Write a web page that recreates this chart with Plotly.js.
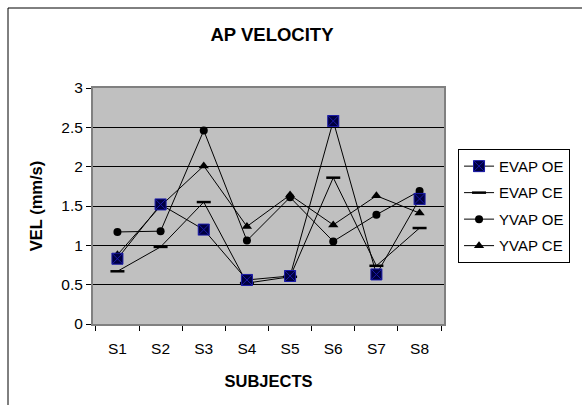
<!DOCTYPE html>
<html>
<head>
<meta charset="utf-8">
<script src="https://cdn.plot.ly/plotly-3.0.1.min.js"></script>
<style>
  html, body { margin: 0; padding: 0; background: #ffffff; }
  #chart { width: 582px; height: 405px; }
</style>
</head>
<body>
<div id="chart"></div>
<script>
// AP velocity per subject, eyes open (OE) / eyes closed (CE)
const subjects = ['S1', 'S2', 'S3', 'S4', 'S5', 'S6', 'S7', 'S8'];
const evapOE = [0.83, 1.52, 1.20, 0.56, 0.61, 2.58, 0.63, 1.59];
const evapCE = [0.67, 0.98, 1.55, 0.52, 0.60, 1.86, 0.74, 1.22];
const yvapOE = [1.17, 1.18, 2.46, 1.06, 1.61, 1.05, 1.39, 1.69];
const yvapCE = [0.88, 1.50, 2.01, 1.24, 1.64, 1.26, 1.63, 1.41];
const yTicks = [0, 0.5, 1, 1.5, 2, 2.5, 3];
const yTickText = ['0', '0.5', '1', '1.5', '2', '2.5', '3'];

const FONT = 'Liberation Sans, Arial, sans-serif';
const lineStyle = { color: '#000000', width: 1 };

const traces = [
  {
    name: 'EVAP CE', x: subjects, y: evapCE, legendrank: 2, legendgroup: 'b',
    mode: 'lines+markers', line: lineStyle,
    marker: { symbol: 'line-ew', size: 10, line: { color: '#000000', width: 2.5 } }
  },
  {
    name: 'YVAP OE', x: subjects, y: yvapOE, legendrank: 3, legendgroup: 'c',
    mode: 'lines+markers', line: lineStyle,
    marker: { symbol: 'circle', size: 8, color: '#000000' }
  },
  {
    name: 'YVAP CE', x: subjects, y: yvapCE, legendrank: 4, legendgroup: 'd',
    mode: 'lines+markers', line: lineStyle,
    marker: { symbol: 'triangle-up', size: 9, color: '#000000' }
  },
  {
    name: 'EVAP OE', x: subjects, y: evapOE, legendrank: 1, legendgroup: 'a',
    mode: 'lines+markers', line: lineStyle,
    marker: { symbol: 'square-x', size: 11, color: '#000040', line: { color: '#1a1aa8', width: 1 } }
  }
];

const layout = {
  width: 582, height: 405,
  margin: { l: 93, r: 138, t: 88, b: 81 },
  paper_bgcolor: '#ffffff',
  plot_bgcolor: '#c0c0c0',
  font: { family: FONT, size: 15, color: '#000000' },
  showlegend: true,
  title: {
    text: '<b>AP VELOCITY</b>',
    font: { family: FONT, size: 18.5, color: '#000000' },
    xref: 'paper', x: 0.51, xanchor: 'center',
    yref: 'container', y: 1 - 35 / 405, yanchor: 'middle'
  },
  xaxis: {
    type: 'category',
    tickson: 'boundaries',
    ticks: 'outside', ticklen: 5, tickcolor: '#000000', tickwidth: 1,
    showline: true, linecolor: '#808080', linewidth: 2, mirror: true,
    showgrid: false, zeroline: false,
    tickfont: { family: FONT, size: 15.5 },
    ticklabelstandoff: 9,
    title: { text: '<b>SUBJECTS</b>', font: { family: FONT, size: 16.5 }, standoff: 20 },
    automargin: false
  },
  yaxis: {
    range: [0, 3],
    tickvals: yTicks, ticktext: yTickText,
    ticks: 'outside', ticklen: 5, tickcolor: '#000000', tickwidth: 1,
    showline: true, linecolor: '#808080', linewidth: 2, mirror: true,
    showgrid: true, gridcolor: '#000000', gridwidth: 1,
    zeroline: false,
    tickfont: { family: FONT, size: 15.5 },
    title: { text: '<b>VEL (mm/s)</b>', font: { family: FONT, size: 16.5 }, standoff: 15 },
    automargin: false
  },
  legend: {
    x: 1.04, xanchor: 'left', y: 0.742, yanchor: 'top',
    bgcolor: '#ffffff', bordercolor: '#000000', borderwidth: 1,
    font: { family: FONT, size: 15 },
    traceorder: 'grouped', tracegroupgap: 4,
    itemwidth: 30
  },
  shapes: [
    {
      type: 'rect', xref: 'paper', yref: 'paper',
      x0: (8 - 93) / 351, x1: (600 - 93) / 351,
      y0: (324 - 420) / 236, y1: (324 - 8) / 236,
      line: { color: '#000000', width: 1 }, fillcolor: 'rgba(0,0,0,0)', layer: 'below'
    }
  ]
};

Plotly.newPlot('chart', traces, layout, { displayModeBar: false, staticPlot: true });
</script>
</body>
</html>
